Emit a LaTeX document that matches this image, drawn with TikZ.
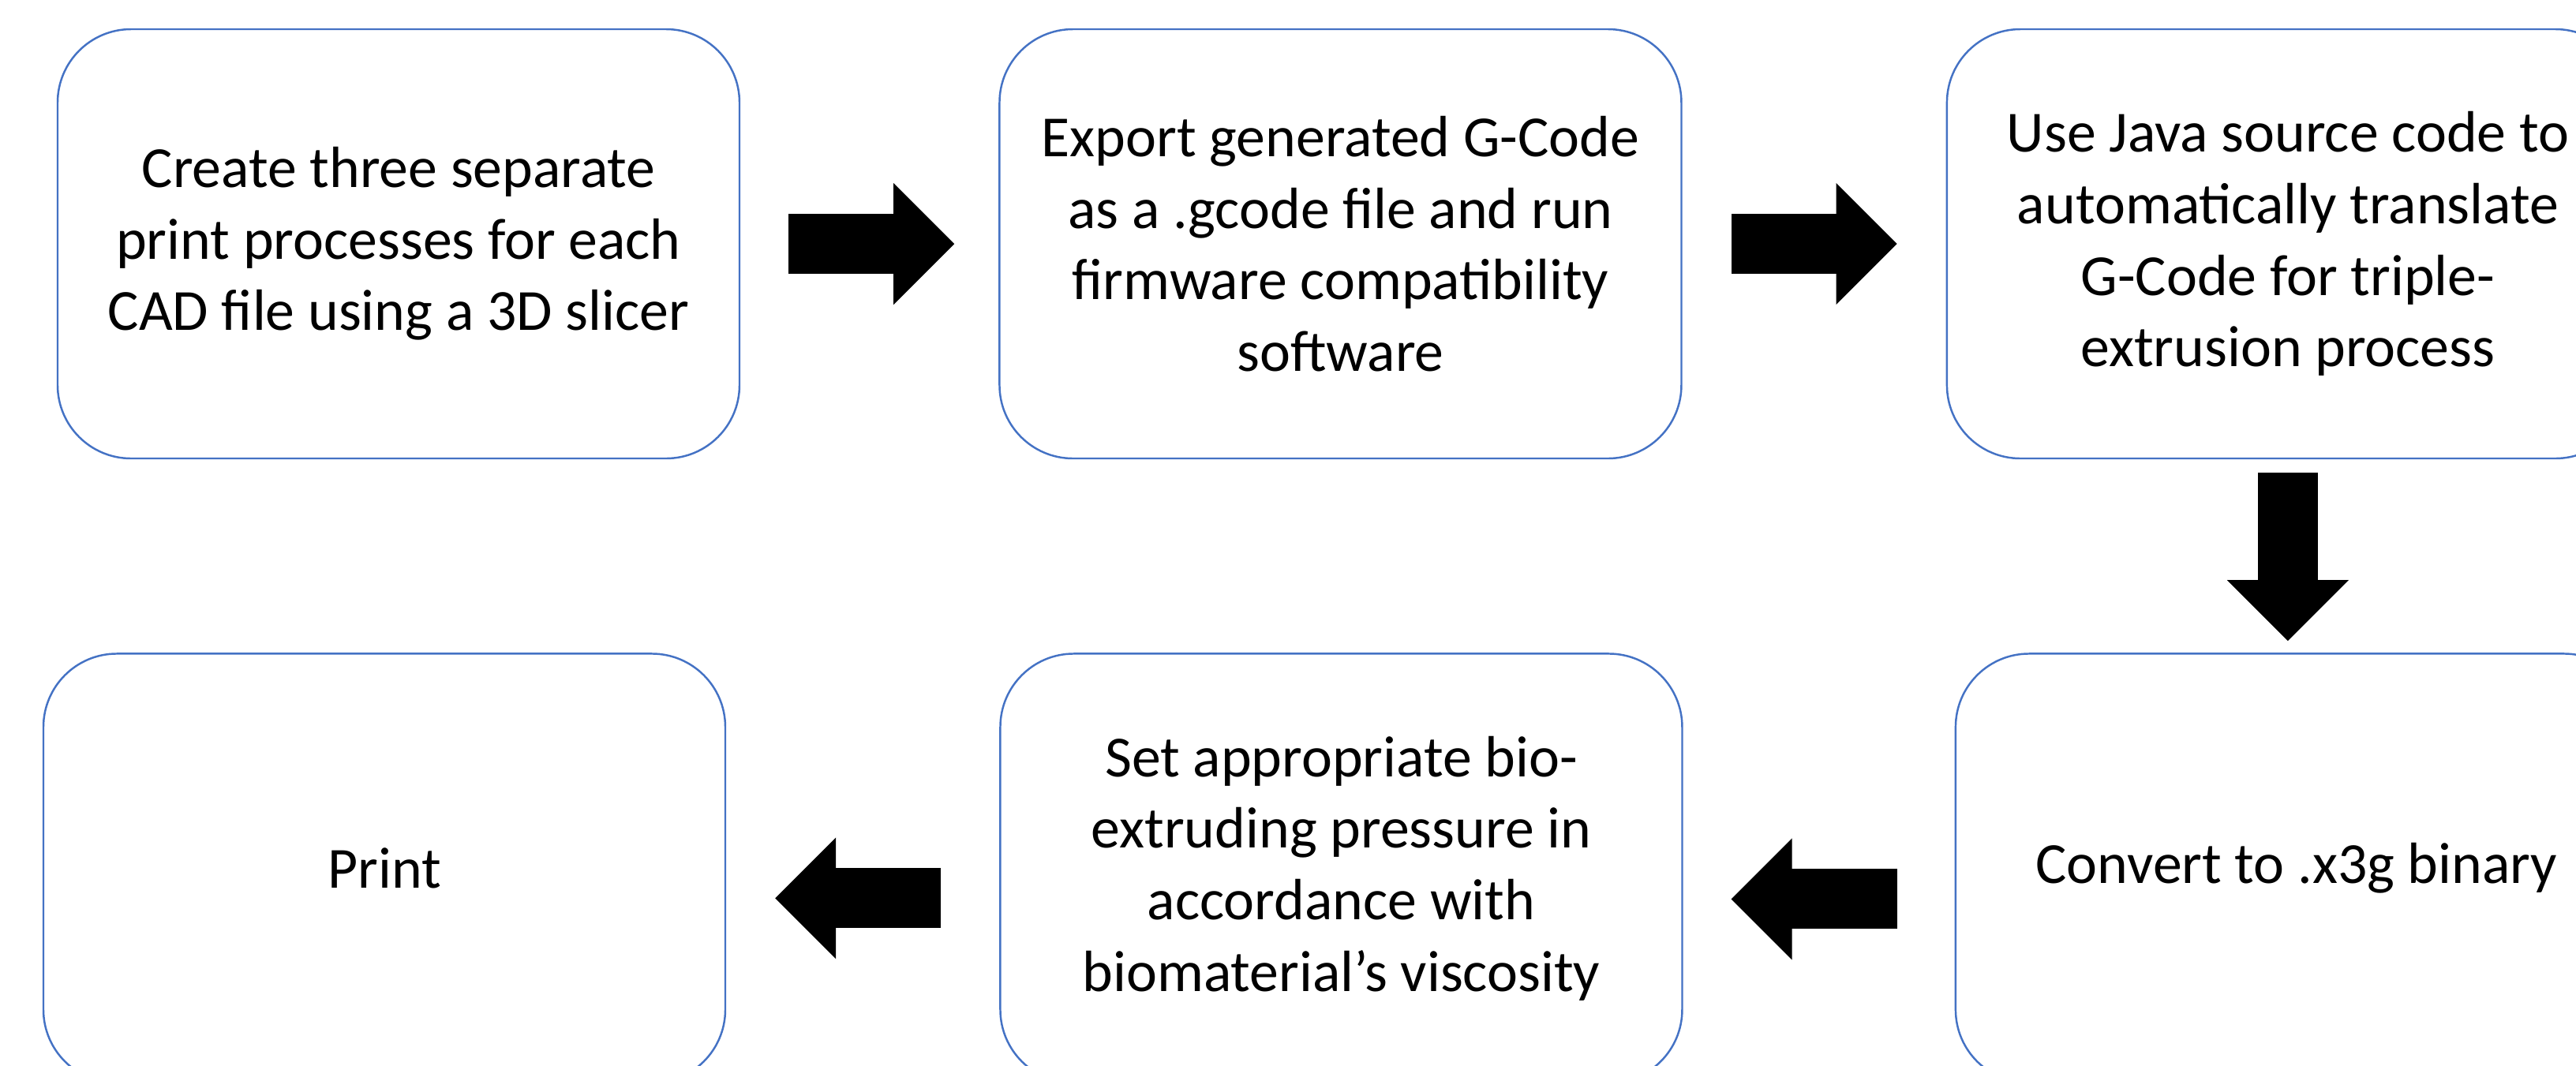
\documentclass[tikz,border=0pt]{standalone}
\usepackage{fontspec}
\setmainfont{Carlito}
\usepackage{tikz}
\usetikzlibrary{arrows.meta, positioning}
\definecolor{boxline}{HTML}{4472C4}
\tikzset{
  stage/.style={
    rectangle, rounded corners=0.93cm,
    minimum width=8.64cm, minimum height=5.44cm,
    align=center, draw=boxline, line width=0.7pt, inner sep=0pt,
    font=\fontsize{21pt}{25.8pt}\selectfont,
  },
  bigarrow/.style={-{Triangle[length=0.77cm, width=1.54cm, line width=0pt]}, line width=0.76cm, line cap=rect, color=black},
}
\begin{document}
\begin{tikzpicture}
  \useasboundingbox (0,0) rectangle (32.64,-13.5);

  \node[stage] (slice) at (5.05,-3.09) {Create three separate\\print processes for each\\CAD file using a 3D slicer};
  \node[stage, right=3.27cm of slice] (export) {Export generated G-Code\\as a .gcode file and run\\firmware compatibility\\software};
  \node[stage, right=3.34cm of export] (translate) {Use Java source code to\\automatically translate\\G-Code for triple-\\extrusion process};
  \node[stage, below=2.45cm of translate, xshift=0.11cm] (convert) {Convert to .x3g binary};
  \node[stage, left=3.44cm of convert] (pressure) {Set appropriate bio-\\extruding pressure in\\accordance with\\biomaterial’s viscosity};
  \node[stage, left=3.46cm of pressure] (print) {Print};

  % rect caps push the shaft into the head, so the start is shortened by half the width more
  \draw[bigarrow, shorten <=0.99cm, shorten >=0.56cm] (slice) -- (export);
  \draw[bigarrow, shorten <=1.00cm, shorten >=0.62cm] (export) -- (translate);
  \draw[bigarrow, shorten <=0.55cm, shorten >=0.15cm] (translate.south) -- (translate.south |- convert.north);
  \draw[bigarrow, shorten <=1.11cm, shorten >=0.61cm] ([yshift=-0.39cm]convert.west) -- ([yshift=-0.39cm]pressure.east);
  \draw[bigarrow, shorten <=1.12cm, shorten >=0.62cm] ([yshift=-0.38cm]pressure.west) -- ([yshift=-0.38cm]print.east);

\end{tikzpicture}
\end{document}
